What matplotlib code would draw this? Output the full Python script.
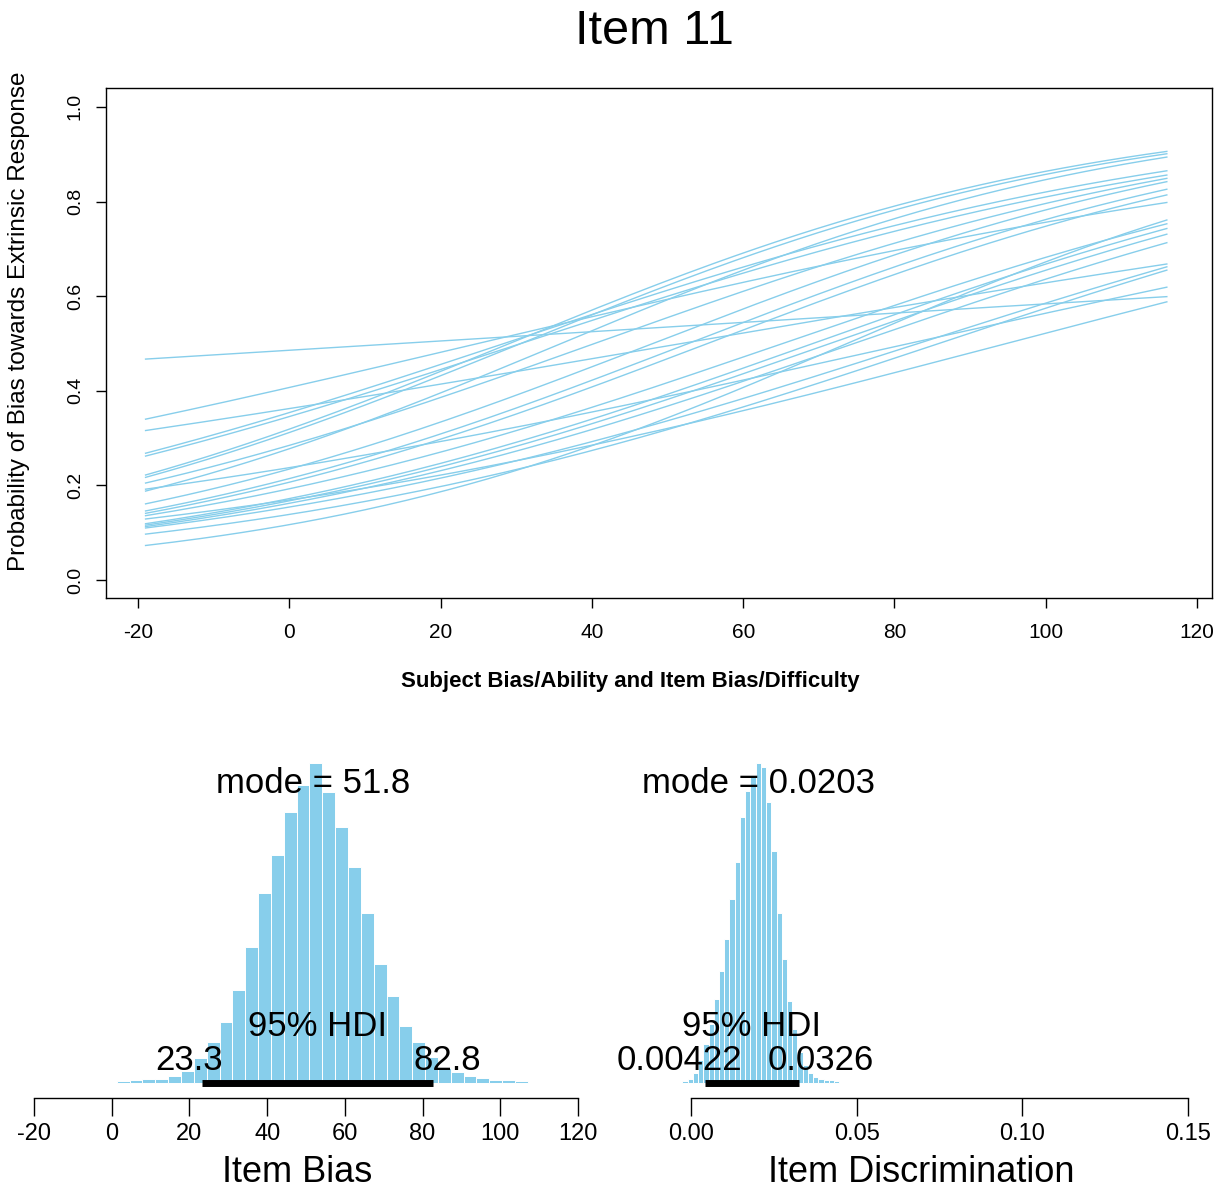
import numpy as np
import matplotlib
matplotlib.use('Agg')
from matplotlib import pyplot as plt
from matplotlib import transforms

# item characteristic curves: probability read at the left (x=-19) and right (x=116) ends
x_lo, x_hi = -19, 116
p_left = [0.467, 0.129, 0.192, 0.340, 0.073, 0.316, 0.222, 0.217, 0.188, 0.268, 0.262,
          0.205, 0.161, 0.146, 0.141, 0.136, 0.119, 0.116, 0.113, 0.110, 0.097]
p_right = [0.599, 0.588, 0.619, 0.798, 0.761, 0.668, 0.906, 0.901, 0.894, 0.865, 0.856,
           0.849, 0.842, 0.826, 0.814, 0.753, 0.743, 0.731, 0.713, 0.662, 0.655]

# posterior histogram of item bias
bias_first_edge = 1.3
bias_bin_width = 3.306
bias_counts = [8, 9, 12, 14, 22, 37, 75, 125, 183, 280, 408, 572, 685, 815, 895, 962,
               875, 770, 650, 510, 357, 262, 172, 125, 80, 45, 35, 22, 15, 11, 9, 8]
bias_mode = 51.8
bias_hdi = [23.3, 82.8]

# posterior histogram of item discrimination
disc_first_edge = -0.00258
disc_bin_width = 0.001577
disc_counts = [8, 12, 30, 70, 120, 180, 255, 340, 435, 555, 668, 805, 882, 928, 968,
               955, 850, 700, 515, 375, 250, 165, 95, 55, 30, 20, 14, 10, 9, 8]
disc_mode = 0.0203
disc_hdi = [0.00422, 0.0326]
disc_hdi_labels = ['0.00422', '0.0326']

plt.rcParams['font.family'] = ['Liberation Sans', 'DejaVu Sans']

W, H = 1230, 1194
fig = plt.figure(figsize=(W / 100, H / 100), dpi=100)


def box(l, t, r, b):
    return [l / W, 1 - b / H, (r - l) / W, (b - t) / H]


blue = '#87CEEB'

# ---- top panel
ax = fig.add_axes(box(106, 88, 1212, 598))
xs = np.linspace(x_lo, x_hi, 150)
for s, e in zip(p_left, p_right):
    ls = np.log(s / (1 - s))
    le = np.log(e / (1 - e))
    d = (le - ls) / (x_hi - x_lo)
    ys = 1 / (1 + np.exp(-(ls + d * (xs - x_lo))))
    ax.plot(xs, ys, color=blue, lw=1.0)
ax.set_xlim(-24.23, 121.97)
ax.set_ylim(-0.038, 1.040)
xt = list(range(-20, 121, 20))
ax.set_xticks(xt)
ax.set_xticklabels([str(v) for v in xt], size=15)
yt = [0.0, 0.2, 0.4, 0.6, 0.8, 1.0]
ax.set_yticks(yt)
ax.set_yticklabels(['%.1f' % v for v in yt], rotation=90, va='center', size=14)
for sp in ax.spines.values():
    sp.set_linewidth(1.0)
ax.tick_params(direction='out', length=7, width=1, pad=11)
ax.tick_params(axis='y', pad=9)

fig.text(654 / W, 1 - 32 / H, 'Item 11', ha='center', va='center', size=35)
fig.text(19 / W, 1 - 321 / H, 'Probability of Bias towards Extrinsic Response',
         rotation=90, ha='center', va='center', size=17.5)
fig.text(630 / W, 1 - 681 / H, 'Subject Bias/Ability and Item Bias/Difficulty',
         ha='center', va='center', size=16, weight='bold')

renderer = fig.canvas.get_renderer()


def rtext(a, x, y, s, adj, size=25):
    t = a.text(x, y, s, ha='left', va='baseline', size=size, clip_on=False)
    w = t.get_window_extent(renderer).width
    t.set_transform(transforms.offset_copy(a.transData, fig=fig, x=-adj * w, y=0,
                                           units='dots'))
    return t


def post_panel(rect, first_edge, width, counts, mode, hdi, hdi_labels, mode_label,
               xlim, ticks, ticklabels, xlabel, xlabel_x):
    a = fig.add_axes(box(*rect))
    edges = first_edge + width * np.arange(len(counts))
    a.bar(edges, counts, width=width, align='edge', color=blue, edgecolor='white',
          linewidth=0.7, clip_on=False)
    top = max(counts)
    a.set_xlim(*xlim)
    a.set_ylim(0, top)
    for k in ['left', 'right', 'top']:
        a.spines[k].set_visible(False)
    a.spines['bottom'].set_position(('outward', 10.6))
    a.spines['bottom'].set_bounds(ticks[0], ticks[-1])
    a.spines['bottom'].set_linewidth(1.0)
    a.set_yticks([])
    a.set_xticks(ticks)
    a.set_xticklabels(ticklabels, size=17)
    a.tick_params(axis='x', direction='out', length=13, width=1, pad=5)
    a.plot(hdi, [0, 0], color='black', lw=5, solid_capstyle='butt', clip_on=False)
    rtext(a, mode, 0.905 * top, mode_label, 0.5)
    rtext(a, np.mean(hdi), 0.148 * top, '95% HDI', 0.5)
    rtext(a, hdi[0], 0.041 * top, hdi_labels[0], 0.7)
    rtext(a, hdi[1], 0.041 * top, hdi_labels[1], 0.3)
    fig.text(xlabel_x / W, 1 - 1172 / H, xlabel, ha='center', va='center', size=26)
    return a


post_panel((34, 762.7, 578, 1083.3), bias_first_edge, bias_bin_width, bias_counts,
           bias_mode, bias_hdi, ['%.1f' % v for v in bias_hdi], 'mode = %.1f' % bias_mode,
           (-20, 120), list(range(-20, 121, 20)), [str(v) for v in range(-20, 121, 20)],
           'Item Bias', 297)
post_panel((691, 762.7, 1188, 1083.3), disc_first_edge, disc_bin_width, disc_counts,
           disc_mode, disc_hdi, disc_hdi_labels, 'mode = %.4f' % disc_mode,
           (0, 0.15), [0, 0.05, 0.10, 0.15], ['0.00', '0.05', '0.10', '0.15'],
           'Item Discrimination', 921)

plt.savefig('out.png', dpi=100)
